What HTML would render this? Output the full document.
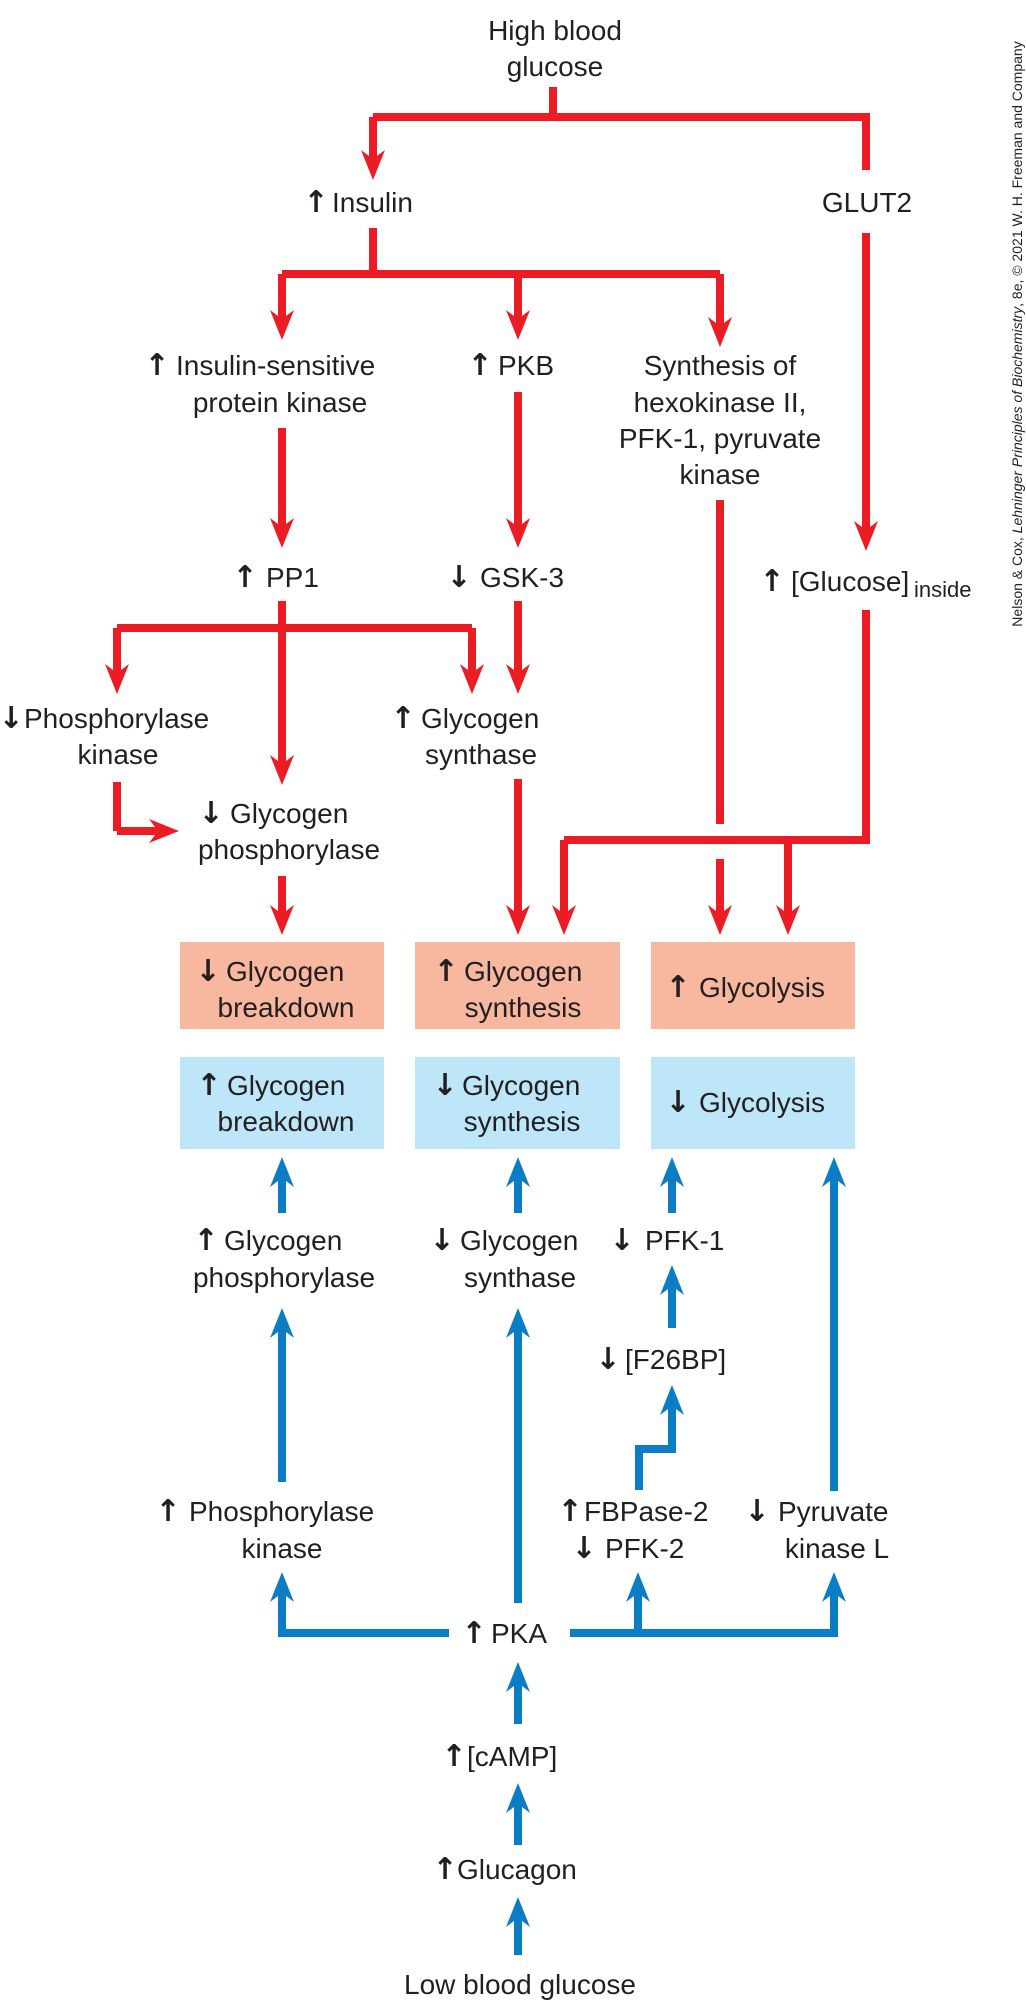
<!DOCTYPE html>
<html><head><meta charset="utf-8"><style>
html,body{margin:0;padding:0;background:#fff;}
svg{display:block;}
text{font-family:"Liberation Sans","DejaVu Sans",sans-serif;fill:#231f20;}
text.arr{font-family:"DejaVu Sans",sans-serif;font-weight:bold;}
</style></head><body>
<svg id="d" width="1026" height="2000" viewBox="0 0 1026 2000">
<rect x="180" y="942" width="204" height="87" fill="#f8b8a0"/>
<rect x="415" y="942" width="205" height="87" fill="#f8b8a0"/>
<rect x="651" y="942" width="204" height="87" fill="#f8b8a0"/>
<rect x="180" y="1057" width="204" height="92" fill="#bde6f8"/>
<rect x="415" y="1057" width="205" height="92" fill="#bde6f8"/>
<rect x="651" y="1057" width="204" height="92" fill="#bde6f8"/>
<g id="lines"></g>
<g id="labels"></g>
<text transform="translate(1022,0) rotate(-90)" x="-334" y="0" text-anchor="middle" font-size="14">Nelson &amp; Cox, <tspan font-style="italic">Lehninger Principles of Biochemistry</tspan>, 8e, © 2021 W. H. Freeman and Company</text>
</svg>
<script>
const RED='#ec1c24', BLUE='#0b7dc4';
const redPlain=[[553,87,553,117],[373,117,866,117,866,170],[373,228,373,274],[282,274,720,274],[866,610,866,840,564,840],[117,628,472,628],[117,782,117,831],[720,500,720,824]];
const redArrows=[[373,117,373,180],[282,274,282,340],[518,274,518,340],[720,274,720,347],[866,233,866,551],[282,428,282,548],[518,392,518,548],[282,601,282,785],[117,628,117,694],[472,628,472,694],[518,601,518,694],[117,831,179,831],[282,876,282,935],[518,779,518,935],[564,840,564,935],[720,859,720,935],[788,840,788,935]];
const blueArrows=[[282,1213,282,1157],[518,1213,518,1157],[672,1213,672,1157],[834,1491,834,1157],[672,1328,672,1265],[639,1490,639,1449,672,1449,672,1385],[282,1482,282,1308],[518,1603,518,1308],[449,1633,282,1633,282,1572],[570,1633,834,1633,834,1572],[638,1633,638,1572],[518,1724,518,1662],[518,1845,518,1783],[518,1955,518,1897]];
const labels=[
[555,30,'High blood','middle',28],[555,66,'glucose','middle',28],
[316,202,'↑','middle',28],[332,202,'Insulin','start',28],[867,202,'GLUT2','middle',28],
[157,365,'↑','middle',28],[176,365,'Insulin-sensitive','start',28],[280,402,'protein kinase','middle',28],
[480,365,'↑','middle',28],[498,365,'PKB','start',28],
[720,365,'Synthesis of','middle',28],[720,402,'hexokinase II,','middle',28],[720,438,'PFK-1, pyruvate','middle',28],[720,474,'kinase','middle',28],
[245,577,'↑','middle',28],[266,577,'PP1','start',28],
[459,577,'↓','middle',28],[480,577,'GSK-3','start',28],
[772,581,'↑','middle',28],[791,581,'[Glucose]','start',28],[914,590,'inside','start',22],
[11,718,'↓','middle',28],[24,718,'Phosphorylase','start',28],[118,754,'kinase','middle',28],
[403,718,'↑','middle',28],[421,718,'Glycogen','start',28],[481,754,'synthase','middle',28],
[211,813,'↓','middle',28],[230,813,'Glycogen','start',28],[289,849,'phosphorylase','middle',28],
[208,971,'↓','middle',28],[226,971,'Glycogen','start',28],[286,1007,'breakdown','middle',28],
[446,971,'↑','middle',28],[464,971,'Glycogen','start',28],[523,1007,'synthesis','middle',28],
[678,987,'↑','middle',28],[699,987,'Glycolysis','start',28],
[209,1085,'↑','middle',28],[227,1085,'Glycogen','start',28],[286,1121,'breakdown','middle',28],
[445,1085,'↓','middle',28],[462,1085,'Glycogen','start',28],[522,1121,'synthesis','middle',28],
[678,1102,'↓','middle',28],[699,1102,'Glycolysis','start',28],
[206,1240,'↑','middle',28],[224,1240,'Glycogen','start',28],[284,1277,'phosphorylase','middle',28],
[442,1240,'↓','middle',28],[460,1240,'Glycogen','start',28],[520,1277,'synthase','middle',28],
[622,1240,'↓','middle',28],[645,1240,'PFK-1','start',28],
[608,1359,'↓','middle',28],[625,1359,'[F26BP]','start',28],
[168,1511,'↑','middle',28],[189,1511,'Phosphorylase','start',28],[282,1548,'kinase','middle',28],
[570,1511,'↑','middle',28],[584,1511,'FBPase-2','start',28],[584,1548,'↓','middle',28],[605,1548,'PFK-2','start',28],
[757,1511,'↓','middle',28],[778,1511,'Pyruvate','start',28],[837,1548,'kinase L','middle',28],
[474,1633,'↑','middle',28],[491,1633,'PKA','start',28],
[454,1756,'↑','middle',28],[467,1756,'[cAMP]','start',28],
[445,1869,'↑','middle',28],[457,1869,'Glucagon','start',28],
[520,1984,'Low blood glucose','middle',28]
];
const NS='http://www.w3.org/2000/svg';
const gl=document.getElementById('lines');
const gt=document.getElementById('labels');
function poly(pts,color){
  const p=document.createElementNS(NS,'polyline');
  p.setAttribute('points',pts.join(' '));
  p.setAttribute('fill','none');p.setAttribute('stroke',color);
  p.setAttribute('stroke-width','8');p.setAttribute('stroke-linejoin','miter');
  
  
  gl.appendChild(p);
}
function arrow(pts,color){
  const n=pts.length;
  const tx=pts[n-2],ty=pts[n-1],px=pts[n-4],py=pts[n-3];
  const dx=tx-px,dy=ty-py,L=Math.hypot(dx,dy),ux=dx/L,uy=dy/L;
  const q=pts.slice(0,n-2);q.push(tx-ux*20,ty-uy*20);
  poly(q,color);
  const len=30,hw=12,notch=9,nx=-uy,ny=ux;
  const bx=tx-ux*len,by=ty-uy*len;
  const h=document.createElementNS(NS,'polygon');
  h.setAttribute('points',[tx,ty,bx+nx*hw,by+ny*hw,tx-ux*(len-notch),ty-uy*(len-notch),bx-nx*hw,by-ny*hw].join(' '));
  h.setAttribute('fill',color);
  
  
  gl.appendChild(h);
}
redPlain.forEach(p=>poly(p,RED));
redArrows.forEach(p=>arrow(p,RED));
blueArrows.forEach(p=>arrow(p,BLUE));
labels.forEach(l=>{
  const t=document.createElementNS(NS,'text');
  const isArr=(l[2]==='↑'||l[2]==='↓');
  t.setAttribute('x',l[0]);t.setAttribute('y',l[1]+(l[4]==28?10:7));
  t.setAttribute('text-anchor',l[3]);t.setAttribute('font-size',isArr?30:l[4]);
  if(isArr) t.setAttribute('class','arr');
  t.textContent=l[2];
  
  
  gt.appendChild(t);
});
</script>
</body></html>
